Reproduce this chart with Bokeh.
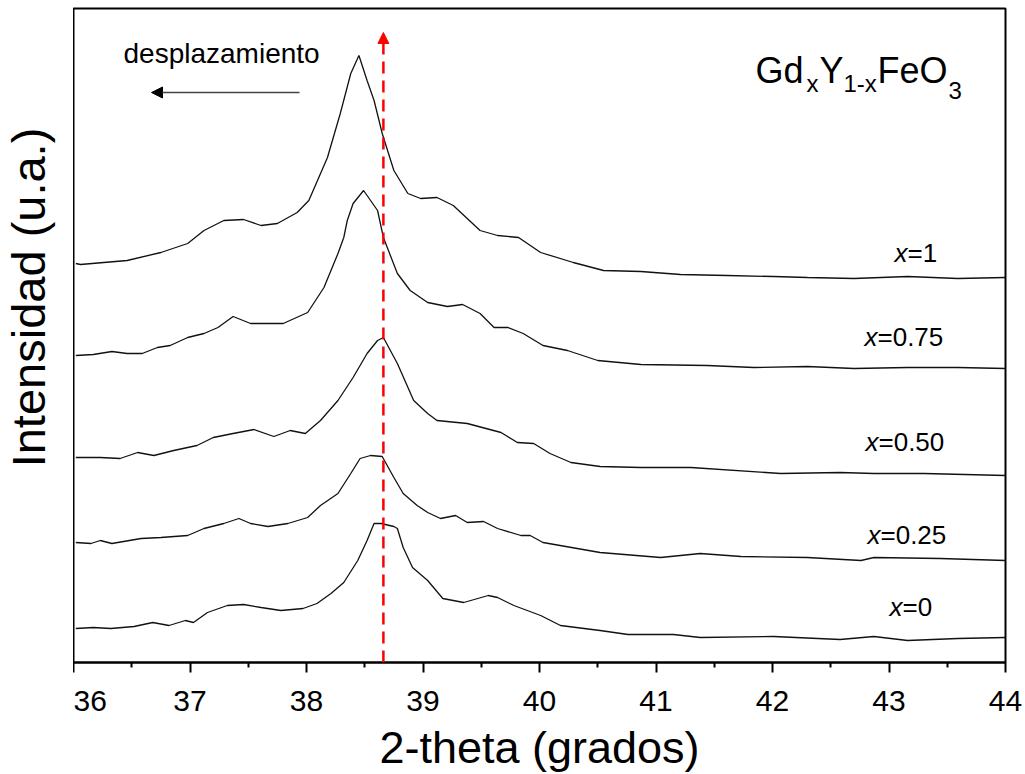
import math
from bokeh.plotting import figure
from bokeh.layouts import row
from bokeh.models import Range1d, Arrow, NormalHead, FixedTicker
from bokeh.core.properties import value
from bokeh.embed import file_html
from bokeh.resources import INLINE

# ---------------- data (2-theta in degrees, intensity in a.u., curves stacked) ----------------
theta_x1 = [36.02, 36.06, 36.46, 36.75, 36.98, 37.12, 37.29, 37.46, 37.61, 37.75, 37.92, 38.02, 38.18,
            38.29, 38.38, 38.45, 38.52, 38.58, 38.65, 38.75, 38.87, 38.98, 39.12, 39.26, 39.49, 39.64,
            39.82, 40.01, 40.29, 40.55, 40.87, 41.21, 41.61, 42.01, 42.30, 42.70, 43.16, 43.59, 44.0]
inten_x1 = [399, 398, 402, 410, 419, 432, 442, 443, 437, 439, 450, 462, 505,
            549, 589, 607, 582, 562, 529, 492, 469, 464, 465, 457, 432, 427,
            425, 410, 400, 392, 391, 388, 387, 386, 385, 384, 386, 384, 385]

theta_x075 = [36.02, 36.17, 36.33, 36.46, 36.59, 36.72, 36.83, 36.98, 37.12, 37.24, 37.37, 37.52, 37.67,
              37.80, 38.01, 38.15, 38.27, 38.32, 38.35, 38.40, 38.49, 38.61, 38.66, 38.78, 38.89, 39.04,
              39.21, 39.34, 39.49, 39.61, 39.73, 39.86, 40.03, 40.24, 40.50, 40.87, 41.44, 41.84, 42.30,
              42.70, 43.16, 43.59, 44.0]
inten_x075 = [307, 308, 311, 309, 309, 315, 317, 325, 329, 335, 346, 339, 339,
              339, 350, 375, 409, 425, 442, 459, 472, 452, 425, 389, 372, 360,
              356, 358, 349, 335, 335, 329, 317, 312, 302, 298, 297, 295, 296,
              294, 295, 295, 294]

theta_x050 = [36.02, 36.23, 36.40, 36.55, 36.69, 36.86, 37.06, 37.20, 37.37, 37.55, 37.72, 37.86, 37.99,
              38.12, 38.27, 38.40, 38.52, 38.61, 38.66, 38.78, 38.92, 39.04, 39.12, 39.38, 39.67, 39.81,
              39.95, 40.09, 40.27, 40.52, 40.87, 41.30, 42.07, 42.58, 42.87, 43.30, 44.0]
inten_x050 = [205, 205, 204, 210, 207, 212, 217, 225, 229, 233, 226, 232, 229,
              242, 262, 285, 309, 322, 325, 299, 262, 249, 242, 239, 230, 220,
              219, 209, 200, 196, 195, 195, 189, 190, 189, 189, 187]

theta_x025 = [36.02, 36.15, 36.23, 36.33, 36.58, 36.75, 36.98, 37.12, 37.29, 37.42, 37.52, 37.67, 37.84,
              38.01, 38.12, 38.27, 38.38, 38.46, 38.55, 38.65, 38.75, 38.83, 38.95, 39.04, 39.15, 39.28,
              39.38, 39.52, 39.64, 39.84, 39.92, 40.03, 40.52, 41.04, 41.38, 41.73, 42.30, 42.76, 42.87,
              43.44, 44.0]
inten_x025 = [120, 119, 122, 119, 124, 125, 127, 134, 139, 144, 139, 136, 139,
              145, 157, 169, 189, 204, 207, 206, 185, 169, 157, 150, 144, 147,
              140, 141, 134, 127, 127, 120, 110, 105, 109, 106, 105, 102, 105,
              104, 102]

theta_x0 = [36.02, 36.17, 36.32, 36.52, 36.68, 36.82, 36.96, 37.03, 37.15, 37.32, 37.46, 37.61, 37.78,
            37.97, 38.09, 38.21, 38.32, 38.44, 38.52, 38.58, 38.64, 38.75, 38.78, 38.83, 38.91, 39.04,
            39.17, 39.35, 39.47, 39.56, 39.64, 39.78, 40.01, 40.18, 40.52, 40.76, 41.15, 41.38, 42.01,
            42.58, 42.87, 43.16, 43.59, 44.0]
inten_x0 = [34, 35, 34, 36, 40, 37, 42, 40, 50, 57, 58, 55, 52,
            54, 59, 69, 80, 102, 122, 139, 139, 136, 134, 115, 95, 82,
            64, 60, 64, 67, 65, 57, 47, 37, 32, 28, 28, 25, 26, 23,
            26, 22, 24, 25]

composition_labels = ["1", "0.75", "0.50", "0.25", "0"]
x_tick_values = [36, 37, 38, 39, 40, 41, 42, 43, 44]
x_tick_labels = ["36", "37", "38", "39", "40", "41", "42", "43", "44"]
reference_peak = 38.66

series = [(theta_x1, inten_x1), (theta_x075, inten_x075), (theta_x050, inten_x050),
          (theta_x025, inten_x025), (theta_x0, inten_x0)]

# ---------------- layout helpers (pixel geometry of the frame) ----------------
FL, FR, FT, FB = 73, 1005, 8, 662
XMIN, XMAX = 36, 44
PPU = (FR - FL) / (XMAX - XMIN)


def px2x(px):
    return XMIN + (px - FL) / PPU


def py2y(py):
    return FB - py


FONT = "Liberation Sans"

# ---------------- left strip holding the y-axis title ----------------
left = figure(frame_width=FL, frame_height=774, output_backend="svg", toolbar_location=None,
              x_range=Range1d(0, FL), y_range=Range1d(0, 774), min_border=0)
left.axis.visible = False
left.grid.visible = False
left.outline_line_color = None
left.background_fill_color = "white"
left.border_fill_color = "white"
left.text(x=[28], y=[774 - 289], text=["Intensidad (u.a.)"], angle=math.pi / 2,
          text_font=value(FONT), text_font_size="47px", text_align="center",
          text_baseline="middle", text_color="black")

# ---------------- main plot ----------------
p = figure(frame_width=FR - FL, frame_height=FB - FT, output_backend="svg",
           toolbar_location=None, x_range=Range1d(XMIN, XMAX), y_range=Range1d(0, FB - FT),
           min_border_left=0, min_border_right=1025 - FR, min_border_top=FT,
           min_border_bottom=774 - FB)
p.grid.visible = False
p.outline_line_color = "black"
p.outline_line_width = 2
p.background_fill_color = "white"
p.border_fill_color = "white"
p.yaxis.visible = False

xa = p.xaxis[0]
xa.ticker = FixedTicker(ticks=x_tick_values,
                        minor_ticks=[v + 0.5 for v in x_tick_values[:-1]])
xa.major_label_overrides = {v: s for v, s in zip(x_tick_values, x_tick_labels)}
xa.axis_line_width = 2
xa.major_tick_line_width = 2
xa.minor_tick_line_width = 2
xa.major_tick_in = 0
xa.major_tick_out = 10
xa.minor_tick_in = 0
xa.minor_tick_out = 5
xa.major_label_text_font = FONT
xa.major_label_text_font_size = "30px"
xa.major_label_text_color = "black"
xa.major_label_standoff = 18
xa.axis_label = "2-theta (grados)"
xa.axis_label_text_font = FONT
xa.axis_label_text_font_size = "45px"
xa.axis_label_text_font_style = "normal"
xa.axis_label_text_color = "black"
xa.axis_label_standoff = 8

# ---------------- curves ----------------
for t, inten in series:
    p.line(t, inten, line_color="#111111", line_width=1.3)

# ---------------- composition labels ----------------
lab_px = [894, 864, 865, 867, 889]
lab_py = [252, 336, 441, 534, 606]
p.text(x=[px2x(v) for v in lab_px], y=[py2y(v) for v in lab_py], text=["x"] * 5,
       text_font=value(FONT), text_font_style="italic", text_font_size="26px",
       text_align="left", text_baseline="alphabetic", text_color="black")
p.text(x=[px2x(v + 13) for v in lab_px], y=[py2y(v) for v in lab_py],
       text=["=" + s for s in composition_labels],
       text_font=value(FONT), text_font_size="26px",
       text_align="left", text_baseline="alphabetic", text_color="black")

# ---------------- formula GdxY1-xFeO3 ----------------
formula = [("Gd", 755, 70, "36px"), ("x", 806, 83, "24px"), ("Y", 819, 70, "36px"),
           ("1-x", 843, 83, "24px"), ("FeO", 877, 70, "36px"), ("3", 948, 90, "24px")]
for txt, fx, fy, fs in formula:
    p.text(x=[px2x(fx)], y=[py2y(fy)], text=[txt], text_font=value(FONT),
           text_font_size=fs, text_align="left", text_baseline="alphabetic",
           text_color="black")

# ---------------- "desplazamiento" with arrow ----------------
p.text(x=[px2x(123)], y=[py2y(53)], text=["desplazamiento"], text_font=value(FONT),
       text_font_size="28px", text_align="left", text_baseline="alphabetic",
       text_color="black")
p.add_layout(Arrow(x_start=px2x(299), y_start=py2y(92), x_end=px2x(151), y_end=py2y(92),
                   line_color="#444444", line_width=1.5,
                   end=NormalHead(size=11, fill_color="black", line_color="black", line_width=1)))

# ---------------- red dashed reference line with arrow ----------------
p.add_layout(Arrow(x_start=reference_peak, y_start=0, x_end=reference_peak, y_end=py2y(32),
                   line_color="#ff0000", line_width=2.5, line_dash="12 7",
                   end=NormalHead(size=11, fill_color="#ff0000", line_color="#ff0000",
                                  line_width=1)))

layout = row(left, p, spacing=0)
open("out.html", "w").write(file_html(layout, INLINE))
